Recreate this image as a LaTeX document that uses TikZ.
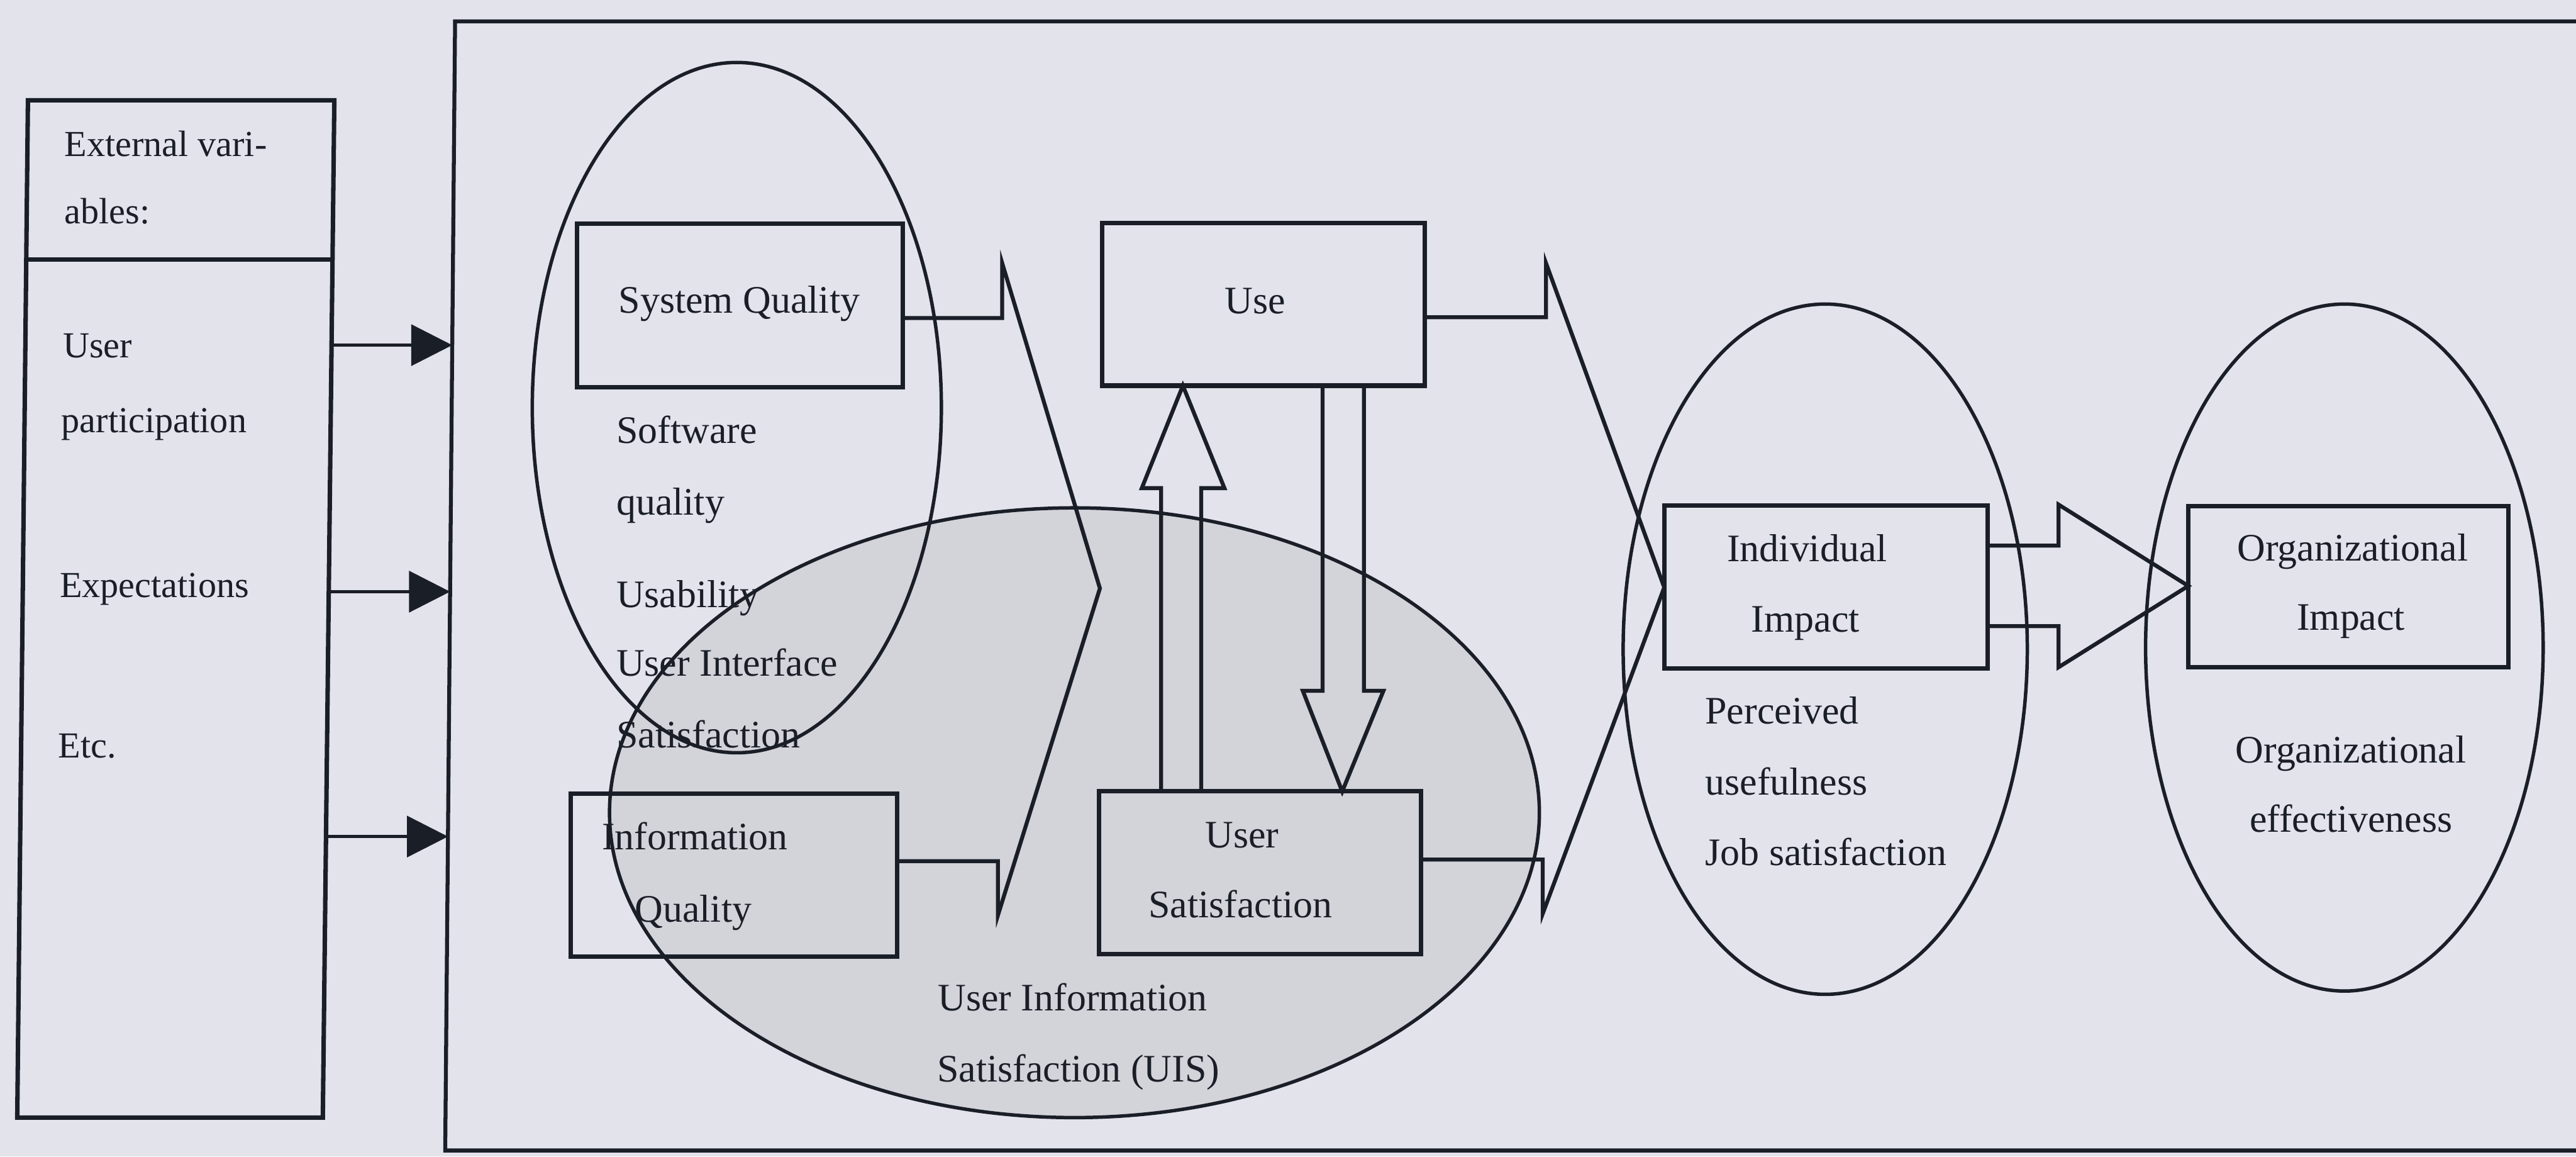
\documentclass[tikz,border=0pt]{standalone}
\usepackage{fontspec}
\setmainfont{Liberation Serif}
\usetikzlibrary{arrows.meta,shapes.geometric}
\definecolor{paper}{HTML}{E3E3EB}
\definecolor{uisfill}{HTML}{D3D3DA}
\definecolor{ink}{HTML}{1A1E27}

\begin{document}
\begin{tikzpicture}[x=0.5pt,y=-0.5pt,
  every node/.style={inner sep=0pt,outer sep=0pt},
  txt/.style={text=ink,font=\fontsize{11.85}{14}\selectfont},
  lefttxt/.style={text=ink,font=\fontsize{11.15}{14}\selectfont},
  box/.style={draw=ink,line width=1.35pt,rectangle},
  oval/.style={draw=ink,line width=1.05pt,ellipse},
  flow/.style={draw=ink,line width=1.2pt,line join=miter},
  feed/.style={draw=ink,line width=0.9pt,-{Triangle[length=12.5pt,width=12.5pt]}},
  frameline/.style={draw=ink,line width=1.2pt}]

\useasboundingbox (0,0) rectangle (1568,703.7);
\fill[paper] (0,0) rectangle (1568,703.7);
\clip (0,0) rectangle (1568,703.7);

% shaded UIS region (drawn first, everything else lies on top)
\node (uis) [oval, fill=uisfill, minimum width=283pt, minimum height=185.5pt] at (654,494.5) {};

% open frame of the success model
\coordinate (fr-tr) at (1590,13);
\coordinate (fr-tl) at (277,13);
\coordinate (fr-bl) at (271,700);
\coordinate (fr-br) at (1590,700);
\draw[frameline] (fr-tr) -- (fr-tl) -- (fr-bl) -- (fr-br);

% external variables box
\coordinate (ev-tl) at (17,61);
\coordinate (ev-tr) at (203.5,61);
\coordinate (ev-br) at (196.5,680);
\coordinate (ev-bl) at (10.5,680);
\coordinate (ev-dl) at (16,158);
\coordinate (ev-dr) at (202.4,158);
\draw[box] (ev-tl) -- (ev-tr) -- (ev-br) -- (ev-bl) -- cycle;
\draw[box] (ev-dl) -- (ev-dr);

\node (t-ext1) [lefttxt, anchor=base west] at (39.3,95) {External vari-};
\node (t-ext2) [lefttxt, anchor=base west] at (39.3,136.2) {ables:};
\node (t-up1) [lefttxt, anchor=base west] at (38.3,217.6) {User};
\node (t-up2) [lefttxt, anchor=base west] at (37.4,263) {participation};
\node (t-exp) [lefttxt, anchor=base west] at (36.4,363.3) {Expectations};
\node (t-etc) [lefttxt, anchor=base west] at (35.5,461) {Etc.};

% feeds into the model frame
\coordinate (f1s) at (201.8,210);
\coordinate (f1e) at (275.3,210);
\coordinate (f2s) at (200.1,360);
\coordinate (f2e) at (274.0,360);
\coordinate (f3s) at (198.4,509);
\coordinate (f3e) at (272.7,509);
\draw[feed] (f1s) -- (f1e);
\draw[feed] (f2s) -- (f2e);
\draw[feed] (f3s) -- (f3e);

% ovals
\node (sqE) [oval, minimum width=124.5pt, minimum height=210pt] at (448.5,248) {};
\node (iiE) [oval, minimum width=123pt, minimum height=210pt] at (1111,395) {};
\node (oiE) [oval, minimum width=121pt, minimum height=209pt] at (1427,394) {};

% construct boxes
\node (sq)  [box, minimum width=99pt,   minimum height=49.7pt]  at (450.4,185.9) {};
\node (iq)  [box, minimum width=99.4pt, minimum height=49.5pt]  at (446.8,532.5) {};
\node (use) [box, minimum width=98.15pt, minimum height=49.45pt] at (769.2,185.2) {};
\node (us)  [box, minimum width=98pt,   minimum height=49.45pt] at (767,531) {};
\node (ii)  [box, minimum width=98.5pt, minimum height=49.5pt]  at (1111.5,357.1) {};
\node (oi)  [box, minimum width=97.5pt, minimum height=49pt]    at (1429.5,356.8) {};

% box labels
\node (l-sq)  [txt, anchor=base] at (450,190.4) {System Quality};
\node (l-use) [txt, anchor=base] at (764,190.7) {Use};
\node (l-iq1) [txt, anchor=base] at (423,517) {Information};
\node (l-iq2) [txt, anchor=base] at (422,561) {Quality};
\node (l-us1) [txt, anchor=base] at (756,516) {User};
\node (l-us2) [txt, anchor=base] at (755,558.5) {Satisfaction};
\node (l-ii1) [txt, anchor=base] at (1100,341.7) {Individual};
\node (l-ii2) [txt, anchor=base] at (1099,384.6) {Impact};
\node (l-oi1) [txt, anchor=base] at (1432,341.2) {Organizational};
\node (l-oi2) [txt, anchor=base] at (1431,383.3) {Impact};

% measures inside the ovals
\node (m-sq1) [txt, anchor=base west] at (375.2,269.8) {Software};
\node (m-sq2) [txt, anchor=base west] at (375.2,313.3) {quality};
\node (m-sq3) [txt, anchor=base west] at (375.2,369.4) {Usability};
\node (m-sq4) [txt, anchor=base west] at (375.2,411.3) {User Interface};
\node (m-sq5) [txt, anchor=base west] at (375.2,454.8) {Satisfaction};
\node (m-uis1) [txt, anchor=base west] at (571,615) {User Information};
\node (m-uis2) [txt, anchor=base west] at (570.5,658.4) {Satisfaction (UIS)};
\node (m-ii1) [txt, anchor=base west] at (1038,440.6) {Perceived};
\node (m-ii2) [txt, anchor=base west] at (1038,483.6) {usefulness};
\node (m-ii3) [txt, anchor=base west] at (1038,526.5) {Job satisfaction};
\node (m-oi1) [txt, anchor=base] at (1431,464) {Organizational};
\node (m-oi2) [txt, anchor=base] at (1431,506.2) {effectiveness};

% quality -> use / satisfaction
\coordinate (c1a) at (610,193.5);
\coordinate (c1b) at (610,160);
\coordinate (c1t) at (669.5,358);
\coordinate (c1c) at (607.4,557);
\coordinate (c1d) at (607.4,524);
\draw[flow] (sq.east |- c1a) -- (c1a) -- (c1b) -- (c1t) -- (c1c) -- (c1d) -- (iq.east |- c1d);

% use / satisfaction -> individual impact
\coordinate (c2a) at (941,193);
\coordinate (c2b) at (941,160);
\coordinate (c2t) at (1013,357.4);
\coordinate (c2c) at (939,556);
\coordinate (c2d) at (939,523);
\draw[flow] (use.east |- c2a) -- (c2a) -- (c2b) -- (c2t) -- (c2c) -- (c2d) -- (us.east |- c2d);

% individual impact -> organizational impact
\coordinate (a3a) at (1253,332);
\coordinate (a3b) at (1253,307);
\coordinate (a3t) at (1332,356.5);
\coordinate (a3c) at (1253,406);
\coordinate (a3d) at (1253,381);
\draw[flow] (ii.east |- a3a) -- (a3a) -- (a3b) -- (a3t) -- (a3c) -- (a3d) -- (ii.east |- a3d);

% satisfaction -> use
\coordinate (up-l)   at (706.8,297);
\coordinate (up-lw)  at (695,297);
\coordinate (up-tip) at (720,236);
\coordinate (up-rw)  at (745.3,297);
\coordinate (up-r)   at (731.2,297);
\draw[flow] (us.north -| up-l) -- (up-l) -- (up-lw) -- (use.south -| up-tip) -- (up-rw) -- (up-r) -- (us.north -| up-r);

% use -> satisfaction
\coordinate (dn-l)   at (805,420.3);
\coordinate (dn-lw)  at (793,420.3);
\coordinate (dn-tip) at (817,480);
\coordinate (dn-rw)  at (842.1,420.3);
\coordinate (dn-r)   at (830.2,420.3);
\draw[flow] (use.south -| dn-l) -- (dn-l) -- (dn-lw) -- (us.north -| dn-tip) -- (dn-rw) -- (dn-r) -- (use.south -| dn-r);

\end{tikzpicture}
\end{document}
